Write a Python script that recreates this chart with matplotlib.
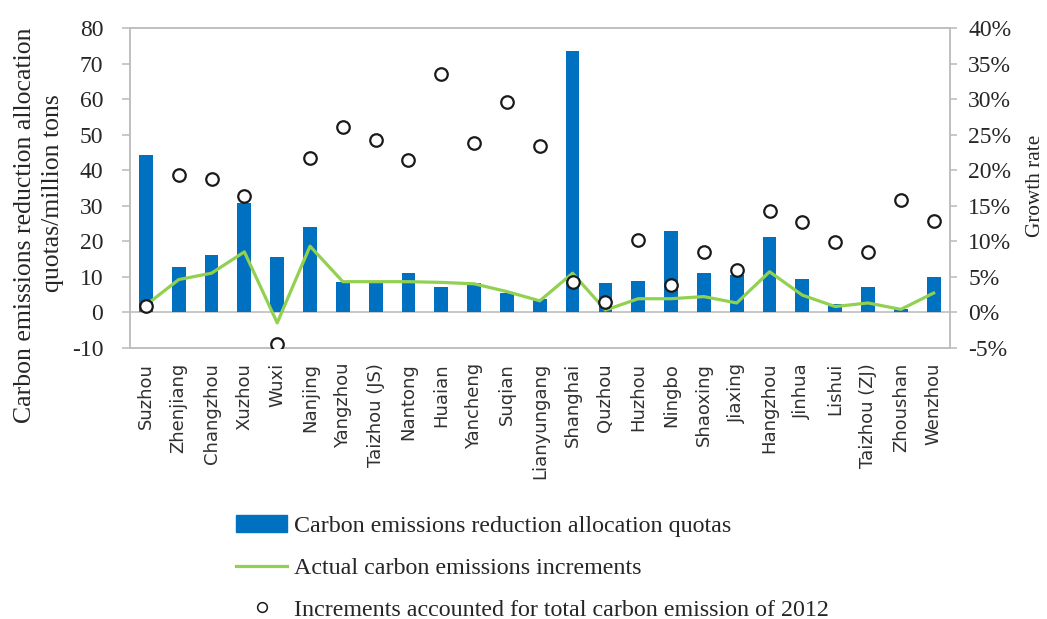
import numpy as np
import matplotlib
matplotlib.use("Agg")
import matplotlib.pyplot as plt
from matplotlib.ticker import FuncFormatter
from matplotlib.lines import Line2D
from matplotlib.patches import Patch

plt.rcParams["axes.unicode_minus"] = False

cities = ["Suzhou", "Zhenjiang", "Changzhou", "Xuzhou", "Wuxi", "Nanjing",
          "Yangzhou", "Taizhou (JS)", "Nantong", "Huaian", "Yancheng", "Suqian",
          "Lianyungang", "Shanghai", "Quzhou", "Huzhou", "Ningbo", "Shaoxing",
          "Jiaxing", "Hangzhou", "Jinhua", "Lishui", "Taizhou (ZJ)", "Zhoushan",
          "Wenzhou"]

# million tons
quotas = [44.2, 12.7, 16.1, 30.9, 15.5, 23.9, 8.6, 8.5, 11.0, 7.0, 8.2, 5.5,
          3.6, 73.6, 8.2, 8.7, 22.9, 11.0, 10.6, 21.1, 9.3, 2.4, 7.0, 1.0, 9.9]

# growth rates, %
increments = [1.0, 4.6, 5.5, 8.5, -1.5, 9.3, 4.3, 4.3, 4.3, 4.2, 4.0, 2.9,
              1.6, 5.5, 0.3, 1.9, 1.9, 2.2, 1.3, 5.7, 2.4, 0.8, 1.3, 0.4, 2.7]
share_2012 = [0.9, 19.4, 18.8, 16.4, -4.5, 21.7, 26.1, 24.2, 21.4, 33.6, 23.9,
              29.6, 23.4, 4.2, 1.4, 10.2, 3.9, 8.5, 6.0, 14.3, 12.7, 9.9, 8.5,
              15.8, 12.9]

SERIF = "Liberation Serif"
GRAY = "#BFBFBF"
TXT = "#262626"

fig = plt.figure(figsize=(10.47, 6.19), dpi=100)
ax = fig.add_axes([0.1237, 0.4383, 0.7837, 0.516])
ax2 = ax.twinx()

x = np.arange(len(cities))
ax.bar(x, quotas, width=0.42, color="#0070C0", zorder=2)
ax.axhline(0, color=GRAY, lw=1.2, zorder=1)

ax2.plot(x, increments, color="#92D050", lw=2.3, zorder=3)
ax2.plot(x, share_2012, ls="none", marker="o", ms=9, mfc="white",
         mec="#1a1a1a", mew=1.6, zorder=4)

ax.set_xlim(-0.5, len(cities) - 0.5)
ax.set_ylim(-10, 80)
ax.set_yticks(np.arange(-10, 81, 10))
ax2.set_ylim(-5, 40)
ax2.set_yticks(np.arange(-5, 41, 5))
ax2.yaxis.set_major_formatter(FuncFormatter(lambda v, p: f"{v:.0f}%"))

for a in (ax, ax2):
    for s in a.spines.values():
        s.set_color(GRAY)
        s.set_linewidth(1.2)
ax2.patch.set_visible(False)

ax.set_xticks(x)
ax.set_xticklabels(cities, rotation=90, fontsize=13, family="DejaVu Sans",
                   color="#303030", va="top", ha="center")
ax.tick_params(axis="x", length=0, pad=11)
ax.tick_params(axis="y", length=6, width=1.2, color=GRAY, pad=13,
               labelsize=17, labelcolor=TXT)
ax2.tick_params(axis="y", length=5, width=1.2, color=GRAY, pad=8,
                labelsize=17, labelcolor=TXT)
for lab in ax.get_yticklabels() + ax2.get_yticklabels():
    lab.set_family(SERIF)

# left axis title, two lines placed separately
fig.text(0.024, 0.6365, "Carbon emissions reduction allocation", rotation=90,
         ha="center", va="center", fontsize=18.5, family=SERIF, color=TXT)
fig.text(0.051, 0.688, "quotas/million tons", rotation=90,
         ha="center", va="center", fontsize=18.5, family=SERIF, color=TXT)
fig.text(0.989, 0.70, "Growth rate", rotation=90, ha="center", va="center",
         fontsize=15.3, family=SERIF, color=TXT)

handles = [Patch(color="#0070C0"),
           Line2D([], [], color="#92D050", lw=2.3),
           Line2D([], [], ls="none", marker="o", ms=7, mfc="white",
                  mec="#1a1a1a", mew=1.1)]
labels = ["Carbon emissions reduction allocation quotas",
          "Actual carbon emissions increments",
          "Increments accounted for total carbon emission of 2012"]
fig.legend(handles, labels, loc="upper left", bbox_to_anchor=(0.2165, 0.183),
           frameon=False, prop={"family": SERIF, "size": 17.3},
           handlelength=2.1, handletextpad=0.3, labelspacing=0.83,
           labelcolor=TXT, borderaxespad=0)

fig.savefig("out.png", dpi=100)
